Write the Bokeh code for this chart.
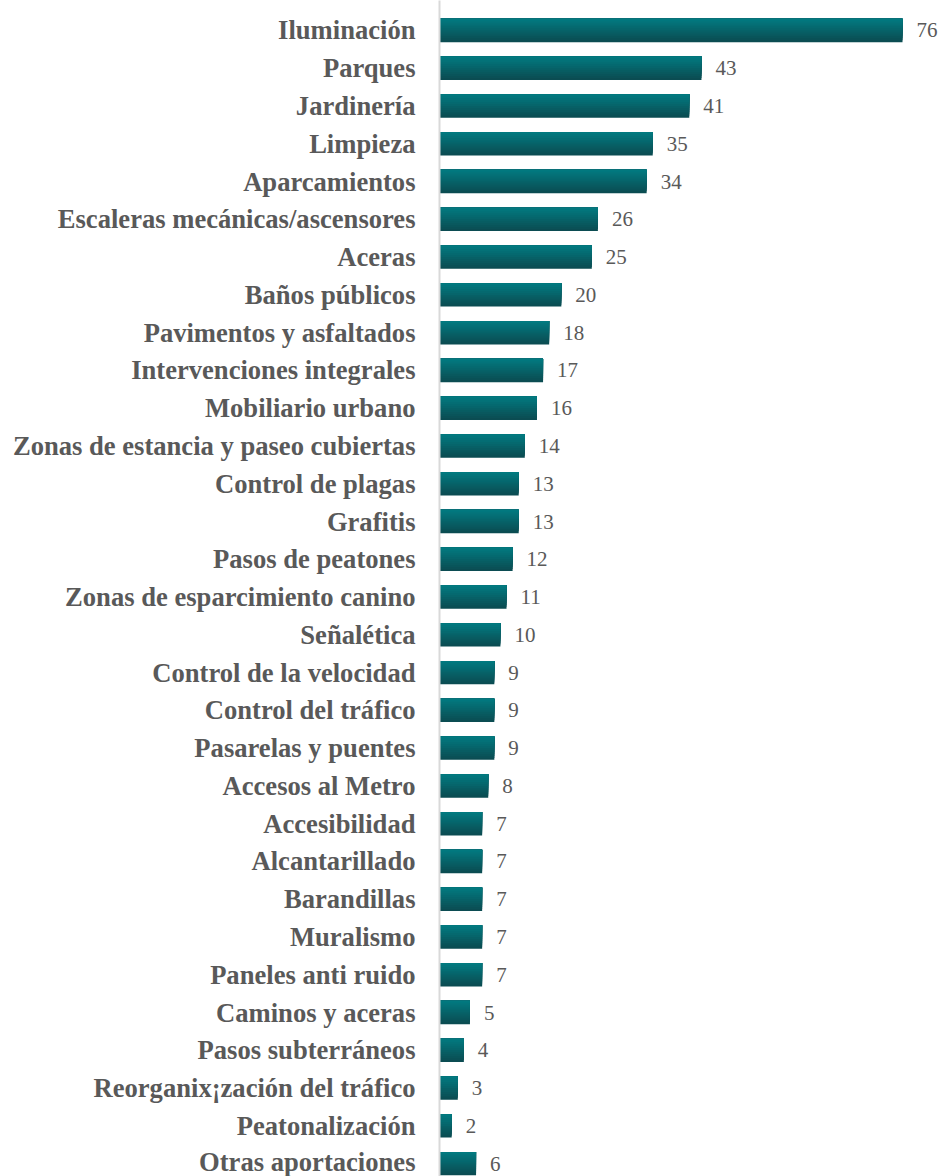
from bokeh.plotting import figure
from bokeh.models import ColumnDataSource, Range1d, FixedTicker, LabelSet
from bokeh.embed import file_html
from bokeh.resources import INLINE

categories = [
    "Iluminación", "Parques", "Jardinería", "Limpieza", "Aparcamientos",
    "Escaleras mecánicas/ascensores", "Aceras", "Baños públicos",
    "Pavimentos y asfaltados", "Intervenciones integrales", "Mobiliario urbano",
    "Zonas de estancia y paseo cubiertas", "Control de plagas", "Grafitis",
    "Pasos de peatones", "Zonas de esparcimiento canino", "Señalética",
    "Control de la velocidad", "Control del tráfico", "Pasarelas y puentes",
    "Accesos al Metro", "Accesibilidad", "Alcantarillado", "Barandillas",
    "Muralismo", "Paneles anti ruido", "Caminos y aceras", "Pasos subterráneos",
    "Reorganix¡zación del tráfico", "Peatonalización", "Otras aportaciones",
]
values = [76, 43, 41, 35, 34, 26, 25, 20, 18, 17, 16, 14, 13, 13, 12, 11, 10,
          9, 9, 9, 8, 7, 7, 7, 7, 7, 5, 4, 3, 2, 6]

positions = list(range(len(categories)))

# gradient colors (top -> bottom of each bar)
grad_top = (0x02, 0x79, 0x7f)
grad_bot = (0x0b, 0x4c, 0x52)
N = 12
bar_h = 0.62

p = figure(width=943, height=1176, output_backend="svg", toolbar_location=None,
           x_range=Range1d(0, 82.73), y_range=Range1d(30.34, -0.794),
           min_border_left=439, min_border_right=0, min_border_top=0,
           min_border_bottom=0, outline_line_color=None)

src = ColumnDataSource(dict(y=positions, v=values,
                            lbl=[str(v) for v in values]))

# vertical gradient: darkest full bar first, lighter layers cover the top part
for k in range(N):
    t = 1 - k / (N - 1)
    c = tuple(int(round(grad_top[j] + (grad_bot[j] - grad_top[j]) * t)) for j in range(3))
    col = "#%02x%02x%02x" % c
    frac = (N - k) / N
    h = bar_h * frac
    ys = [y - bar_h / 2 + h / 2 for y in positions]
    s = ColumnDataSource(dict(y=ys, v=values))
    p.hbar(y="y", right="v", left=0, height=h, source=s,
           fill_color=col, line_color=None)

labels = LabelSet(x="v", y="y", text="lbl", source=src, x_offset=14,
                  text_baseline="middle", text_align="left",
                  text_font="Liberation Serif", text_font_size="21px",
                  text_color="#595959")
p.add_layout(labels)

p.xaxis.visible = False
p.xgrid.visible = False
p.ygrid.visible = False
yax = p.yaxis[0]
yax.ticker = FixedTicker(ticks=positions)
yax.major_label_overrides = {i: c for i, c in zip(positions, categories)}
yax.major_tick_line_color = None
yax.minor_tick_line_color = None
yax.major_tick_out = 0
yax.major_tick_in = 0
yax.axis_line_color = "#d9d9d9"
yax.axis_line_width = 2
yax.major_label_standoff = 24
yax.major_label_text_font = "Liberation Serif"
yax.major_label_text_font_style = "bold"
yax.major_label_text_font_size = "26.6px"
yax.major_label_text_color = "#595959"

open("out.html", "w").write(file_html(p, INLINE))
